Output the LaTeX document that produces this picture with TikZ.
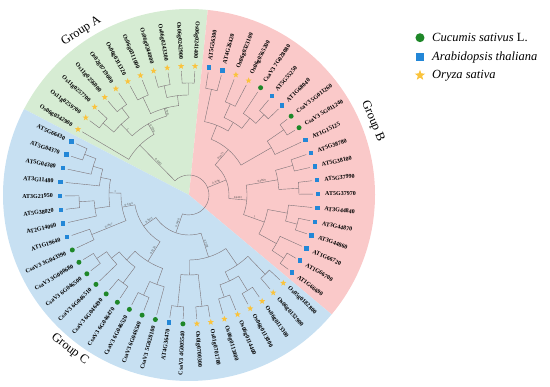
\documentclass[tikz,border=0pt]{standalone}
\usepackage{fontspec}
\setmainfont{Liberation Serif}
\usetikzlibrary{shapes.geometric,positioning}

\definecolor{grpA}{RGB}{214,236,211}
\definecolor{grpB}{RGB}{250,201,201}
\definecolor{grpC}{RGB}{199,224,242}
\definecolor{cucgreen}{RGB}{30,135,40}
\definecolor{arablue}{RGB}{35,135,215}
\definecolor{oryzold}{RGB}{250,195,60}
\definecolor{branchgray}{RGB}{125,115,120}

% angle of leaf position k (clockwise from the top)
\pgfmathdeclarefunction{kang}{1}{\pgfmathparse{81.1-6.207*(#1)}}

% one split: node radius, first child k/radius, second child k/radius
\newcommand{\clade}[5]{%
  \draw[branch] ({kang(#2)}:#3) -- ({kang(#2)}:#1)
    arc[start angle={kang(#2)}, end angle={kang(#4)}, radius=#1]
    -- ({kang(#4)}:#5);}

% support value along a branch
\newcommand{\supp}[3]{%
  \pgfmathsetmacro\sa{kang(#1)}%
  \pgfmathsetmacro\sr{cos(\sa)<0 ? \sa+180 : \sa}%
  \node[support, rotate=\sr, anchor=south] at (\sa:#2) {#3};}

\begin{document}
\begin{tikzpicture}[
    x=1pt, y=1pt,
    branch/.style={draw=branchgray, line width=0.4pt},
    leaf/.style={font=\fontsize{6}{7}\selectfont\bfseries, inner sep=0pt},
    support/.style={font=\fontsize{3}{3}\selectfont, text=black!70, inner sep=0.4pt},
    cuc/.style={circle, fill=cucgreen, inner sep=0pt, minimum size=5pt},
    ara/.style={rectangle, fill=arablue, inner sep=0pt, minimum size=4.5pt},
    ory/.style={star, star points=5, star point ratio=2.4, fill=oryzold, inner sep=0pt, minimum size=6.5pt},
    grouplabel/.style={font=\fontsize{12.5}{14}\selectfont, inner sep=0pt},
    legendtext/.style={font=\fontsize{12.5}{14}\selectfont, inner sep=0pt, anchor=west}
]
    \useasboundingbox (-189,-192) rectangle (361,195);

    % Group sectors
    \fill[grpA] (0,0) -- ({kang(-0.5)}:186) arc[start angle={kang(-0.5)}, end angle={kang(-11.5)}, radius=186] -- cycle;
    \fill[grpB] (0,0) -- ({kang(-0.5)}:186) arc[start angle={kang(-0.5)}, end angle={kang(19.5)}, radius=186] -- cycle;
    \fill[grpC] (0,0) -- ({kang(19.5)}:186) arc[start angle={kang(19.5)}, end angle={kang(46.5)}, radius=186] -- cycle;

    % Group A
    \clade{112}{-10}{124}{-9}{124}
    \clade{110}{-8}{124}{-7}{124}
    \clade{98}{-9.5}{112}{-7.5}{110}
    \clade{108}{-6}{124}{-5}{124}
    \clade{112}{-4}{124}{-3}{124}
    \clade{112}{-2}{124}{-1}{124}
    \clade{100}{-3.5}{112}{-1.5}{112}
    \clade{90}{-5.5}{108}{-2.5}{100}
    \clade{82}{-8.5}{98}{-4}{90}
    \clade{70}{-11}{124}{-6.25}{82}

    % Group B
    \clade{108}{0}{124}{1}{124}
    \clade{100}{2}{124}{3}{124}
    \clade{110}{5}{124}{6}{124}
    \clade{98}{4}{124}{5.5}{110}
    \clade{85}{2.5}{100}{4.75}{98}
    \clade{75}{0.5}{108}{3.625}{85}
    \clade{115}{7}{124}{8}{124}
    \clade{95}{7.5}{115}{9}{124}
    \clade{60}{2.0625}{75}{8.25}{95}
    \clade{108}{10}{124}{11}{124}
    \clade{110}{12}{124}{13}{124}
    \clade{90}{10.5}{108}{12.5}{110}
    \clade{112}{15}{124}{16}{124}
    \clade{100}{14}{124}{15.5}{112}
    \clade{114}{18}{124}{19}{124}
    \clade{100}{17}{124}{18.5}{114}
    \clade{80}{14.75}{100}{17.75}{100}
    \clade{58}{11.5}{90}{16.25}{80}
    \clade{40}{5.15625}{60}{13.875}{58}

    % Group C
    \clade{110}{20}{124}{21}{124}
    \clade{112}{22}{124}{23}{124}
    \clade{108}{24}{124}{25}{124}
    \clade{95}{22.5}{112}{24.5}{108}
    \clade{85}{20.5}{110}{23.5}{95}
    \clade{112}{26}{124}{27}{124}
    \clade{112}{28}{124}{29}{124}
    \clade{80}{26.5}{112}{28.5}{112}
    \clade{65}{22}{85}{27.5}{80}
    \clade{110}{31}{124}{32}{124}
    \clade{95}{30}{124}{31.5}{110}
    \clade{110}{33}{124}{34}{124}
    \clade{112}{36}{124}{37}{124}
    \clade{100}{35}{124}{36.5}{112}
    \clade{90}{33.5}{110}{35.75}{100}
    \clade{78}{30.75}{95}{34.625}{90}
    \clade{105}{38}{124}{39}{124}
    \clade{110}{41}{124}{42}{124}
    \clade{95}{40}{124}{41.5}{110}
    \clade{112}{45}{124}{46}{124}
    \clade{100}{44}{124}{45.5}{112}
    \clade{90}{43}{124}{44.75}{100}
    \clade{80}{40.75}{95}{43.875}{90}
    \clade{68}{38.5}{105}{42.3125}{80}
    \clade{55}{32.6875}{78}{40.40625}{68}
    \clade{40}{24.75}{65}{36.546875}{55}

    % Root
    \draw[branch] ({kang(-8.625)}:70) -- ({kang(-8.625)}:20)
        arc[start angle={kang(-8.625)}, end angle={kang(30.6484)}, radius=20]
        -- ({kang(30.6484)}:40);
    \draw[branch] ({kang(9.5156)}:20) -- ({kang(9.5156)}:40);

    % Support values
    \supp{-8.625}{45}{0.4402}
    \supp{-6.25}{76}{0.7596}
    \supp{-8.5}{90}{1}
    \supp{-4}{86}{0.7905}
    \supp{9.5156}{30}{0.3796}
    \supp{5.15625}{50}{0.5413}
    \supp{13.875}{49}{0.4401}
    \supp{11.5}{74}{0.3869}
    \supp{16.25}{69}{1}
    \supp{30.6484}{30}{0.9418}
    \supp{24.75}{52}{0.3538}
    \supp{36.546875}{47}{0.5051}
    \supp{40.40625}{61}{0.1224}
    \supp{32.6875}{66}{0.3220}
    \supp{38.5}{86}{0.7857}
    \supp{42.3125}{74}{1}

    % Leaves
    \foreach \k/\name/\sp in {
        -11/Os06g0342900/ory, -10/Os11g0259700/ory, -9/Os11g0257700/ory,
        -8/Os11g0256000/ory, -7/Os02g0719600/ory, -6/Os06g0311320/ory,
        -5/Os06g0311000/ory, -4/Os06g0244000/ory, -3/Os06g0243300/ory,
        -2/Os06g0242900/ory, -1/Os06g0241400/ory,
        0/AT5G56300/ara, 1/AT4G26420/ara, 2/Os06g0323100/ory,
        3/Os06g0565200/ory, 4/CsaV3 7G028080/cuc, 5/AT5G55250/ara,
        6/AT1G68040/ara, 7/CsaV3 5G011260/cuc, 8/CsaV3 5G011240/cuc,
        9/AT1G15125/ara, 10/AT5G38780/ara, 11/AT5G38100/ara,
        12/AT5G37990/ara, 13/AT5G37970/ara, 14/AT3G44840/ara,
        15/AT3G44870/ara, 16/AT3G44860/ara, 17/AT1G66720/ara,
        18/AT1G66700/ara, 19/AT1G66690/ara,
        20/Os05g0182800/ory, 21/Os06g0132900/ory, 22/Os06g0113300/ory,
        23/Os06g0113800/ory, 24/Os06g0114400/ory, 25/Os06g0113400/ory,
        26/Os01g0701700/ory, 27/Os01g0700300/ory, 28/CsaV3 4G005540/cuc,
        29/AT4G36470/ara, 30/CsaV3 5G028100/cuc, 31/CsaV3 6G046540/cuc,
        32/CsaV3 6G046520/cuc, 33/CsaV3 6G046470/cuc, 34/CsaV3 6G046490/cuc,
        35/CsaV3 6G046510/cuc, 36/CsaV3 6G046500/cuc, 37/CsaV3 3G000680/cuc,
        38/CsaV3 3G043390/cuc, 39/AT1G19640/ara, 40/AT2G14060/ara,
        41/AT5G38020/ara, 42/AT3G21950/ara, 43/AT3G11480/ara,
        44/AT5G04380/ara, 45/AT5G04370/ara, 46/AT5G66430/ara} {
        \pgfmathsetmacro\a{kang(\k)}
        \pgfmathtruncatemacro\n{\k+11}
        \node[\sp] (m\n) at (\a:129) {};
        \ifnum\k<0 \def\flip{1}\else\ifnum\k>27 \def\flip{1}\else\def\flip{0}\fi\fi
        \ifnum\flip=1
            \node[leaf, rotate=\a+180, anchor=east] (t\n) at (\a:136) {\name};
        \else
            \node[leaf, rotate=\a, anchor=west] (t\n) at (\a:136) {\name};
        \fi
    }

    % Group names
    \node[grouplabel, rotate=32] (gA) at (123.3:196) {Group A};
    \node[grouplabel, rotate=-68] (gB) at (21.9:198) {Group B};
    \node[grouplabel, rotate=-38] (gC) at (-127.7:195) {Group C};

    % Legend
    \node[cuc, minimum size=9pt] (lgc) at (231,157.3) {};
    \node[ara, minimum size=8pt] (lga) at (231,137.7) {};
    \node[ory, minimum size=11pt] (lgo) at (231,119.7) {};
    \node[legendtext] (lgct) at (243,157.3) {\textit{Cucumis sativus} L.};
    \node[legendtext] (lgat) at (243,137.7) {\textit{Arabidopsis thaliana}};
    \node[legendtext] (lgot) at (243,119.7) {\textit{Oryza sativa}};
\end{tikzpicture}
\end{document}
